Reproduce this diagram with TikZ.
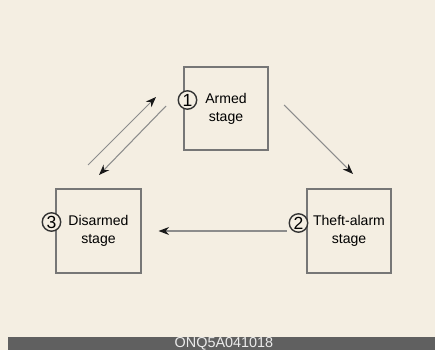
\documentclass[tikz,border=0pt]{standalone}
\usepackage{fontspec}
\setmainfont{Liberation Sans}
\usetikzlibrary{positioning,arrows.meta,calc}
\definecolor{PaperTan}{RGB}{244,238,226}
\definecolor{BoxGrey}{RGB}{118,118,118}
\definecolor{LineGrey}{RGB}{140,140,140}
\definecolor{BarGrey}{RGB}{96,96,96}

\begin{document}
\begin{tikzpicture}[x=0.02cm, y=-0.02cm, every node/.style={font=\fontsize{8}{10.2}\selectfont, align=center}]
  \fill[PaperTan] (0,0) rectangle (435,350);
  \fill[BarGrey] (8,337) rectangle (435,350);
  \node[text=white!92!black, font=\fontsize{8.2}{9}\selectfont] (code) at (224,343.5) {ONQ5A041018};
  \node[draw=BoxGrey, line width=0.6pt, minimum width=1.68cm,
        minimum height=1.66cm] (armed) at (226,108.5) {Armed\\stage};
  \node[draw=BoxGrey, line width=0.6pt, minimum width=1.68cm,
        minimum height=1.68cm] (theft) at (349,231) {Theft-alarm\\stage};
  \node[draw=BoxGrey, line width=0.6pt, minimum width=1.70cm,
        minimum height=1.68cm] (disarmed) at (98.5,231) {Disarmed\\stage};
  \node[draw=black!80, fill=PaperTan, circle, line width=0.8pt, inner sep=0pt,
        minimum size=10.5pt, font=\fontsize{10}{10}\selectfont] (num1) at ($(armed.west)+(4,-8.5)$) {1};
  \node[draw=black!80, fill=PaperTan, circle, line width=0.8pt, inner sep=0pt,
        minimum size=10.5pt, font=\fontsize{10}{10}\selectfont] (num2) at ($(theft.west)+(-8,-8)$) {2};
  \node[draw=black!80, fill=PaperTan, circle, line width=0.8pt, inner sep=0pt,
        minimum size=10.5pt, font=\fontsize{10}{10}\selectfont] (num3) at ($(disarmed.west)+(-4,-9)$) {3};
  \coordinate (up0) at (88,165);
  \coordinate (up1) at (156,97);
  \coordinate (dn0) at (166,106);
  \coordinate (dn1) at (99,175);
  \coordinate (rt0) at (284,105);
  \coordinate (rt1) at (353,174);
  \draw[-{Stealth[length=6pt, width=4.5pt, black!90]}, LineGrey, line width=0.6pt] (up0) -- (up1);
  \draw[-{Stealth[length=6pt, width=4.5pt, black!90]}, LineGrey, line width=0.6pt] (dn0) -- (dn1);
  \draw[-{Stealth[length=6pt, width=4.5pt, black!90]}, LineGrey, line width=0.6pt] (rt0) -- (rt1);
  \draw[-{Stealth[length=6pt, width=4.5pt, black!90]}, LineGrey, line width=0.6pt,
        shorten <=1pt, shorten >=17*0.02cm] (num2.west |- theft.center) -- (disarmed.east);
\end{tikzpicture}
\end{document}
